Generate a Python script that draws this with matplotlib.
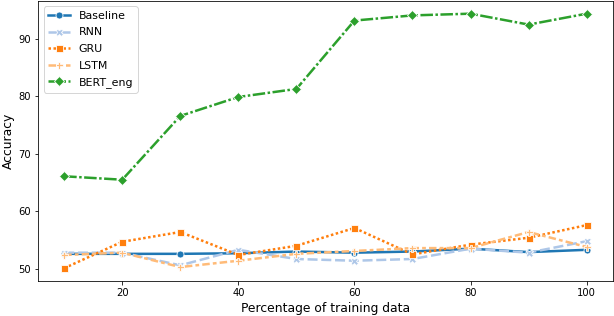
import matplotlib
matplotlib.use('Agg')
import matplotlib.pyplot as plt

# percentage of training data
pct = [10, 20, 30, 40, 50, 60, 70, 80, 90, 100]

baseline = [52.6, 52.6, 52.6, 52.7, 53.0, 52.8, 53.0, 53.5, 52.9, 53.3]
rnn      = [52.8, 52.8, 50.6, 53.3, 51.7, 51.4, 51.7, 53.5, 52.8, 54.8]
gru      = [50.1, 54.7, 56.4, 52.4, 54.0, 57.1, 52.5, 54.2, 55.4, 57.6]
lstm     = [52.4, 52.8, 50.3, 51.4, 52.6, 53.1, 53.6, 53.6, 56.4, 53.8]
bert_eng = [66.1, 65.5, 76.6, 79.9, 81.3, 93.2, 94.1, 94.4, 92.5, 94.4]

series = [
    ('Baseline', baseline, '#1f77b4', '-', 'o'),
    ('RNN', rnn, '#aec7e8', (0, (4, 1.5)), 'X'),
    ('GRU', gru, '#ff7f0e', (0, (1, 1)), 's'),
    ('LSTM', lstm, '#ffbb78', (0, (3, 1.25, 1.5, 1.25)), 'P'),
    ('BERT_eng', bert_eng, '#2ca02c', (0, (5, 1, 1, 1)), 'D'),
]

# rendered at 72 dpi, so points == pixels
fig, ax = plt.subplots(figsize=(614 / 72, 316 / 72), dpi=72)
fig.subplots_adjust(left=0.062, right=0.998, top=0.997, bottom=0.111)

for name, vals, col, ls, mk in series:
    ax.plot(pct, vals, color=col, linestyle=ls, linewidth=2.5, marker=mk,
            markersize=7, markeredgecolor='white', markeredgewidth=0.8, label=name)

ax.set_xlabel('Percentage of training data', fontsize=12.4)
ax.set_ylabel('Accuracy', fontsize=12.4)
ax.set_xticks([20, 40, 60, 80, 100])
ax.set_yticks([50, 60, 70, 80, 90])
ax.tick_params(labelsize=10)
ax.legend(loc='upper left', fontsize=11, labelspacing=0.6)

fig.savefig('out.png', dpi=72)
